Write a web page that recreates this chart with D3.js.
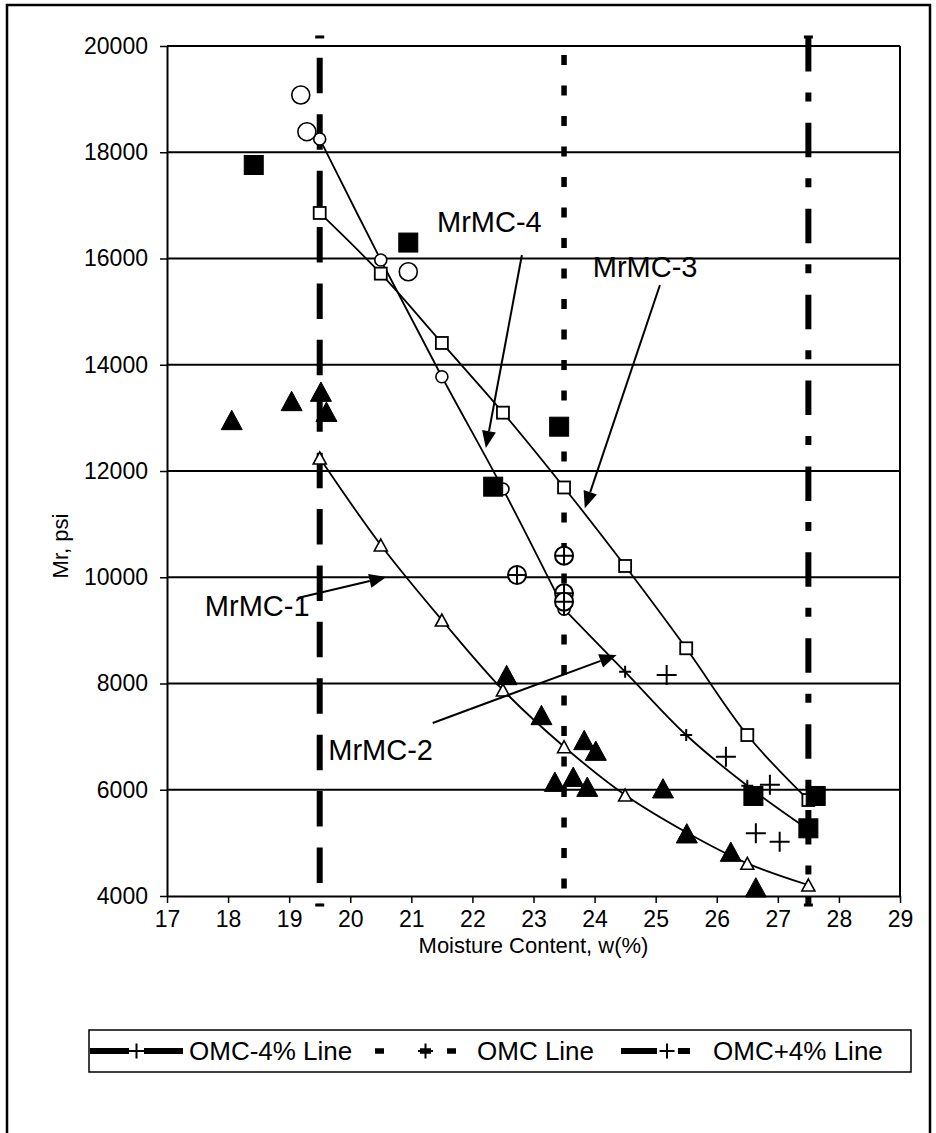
<!DOCTYPE html>
<html>
<head>
<meta charset="utf-8">
<script src="https://cdn.jsdelivr.net/npm/d3@7"></script>
<style>
  body { margin: 0; background: #fff; }
  svg { display: block; }
  text { font-family: "Liberation Sans", Arial, sans-serif; fill: #000; }
</style>
</head>
<body>
<svg id="chart" width="936" height="1133"></svg>
<script>
// ---- axis ticks ----
const xTicks = [17, 18, 19, 20, 21, 22, 23, 24, 25, 26, 27, 28, 29];
const yTicks = [4000, 6000, 8000, 10000, 12000, 14000, 16000, 18000, 20000];

// ---- fitted curves (moisture %, Mr psi) ----
const mrmc1X = [19.5, 20.5, 21.5, 22.5, 23.5, 24.5, 25.5, 26.5, 27.5];
const mrmc1Y = [12245, 10607, 9195, 7878, 6810, 5901, 5200, 4615, 4207];
const mrmc3X = [19.5, 20.5, 21.5, 22.5, 23.5, 24.5, 25.5, 26.5, 27.5];
const mrmc3Y = [16857, 15715, 14410, 13098, 11690, 10212, 8663, 7030, 5807];
const mrmc4X = [19.5, 20.5, 21.5, 22.5, 23.5];
const mrmc4Y = [18250, 15972, 13774, 11660, 9400];
const mrmc2X = [23.5, 24.5, 25.5, 26.5, 27.5];
const mrmc2Y = [9400, 8220, 7030, 6075, 5250];

// ---- measured points ----
const sqX = [18.42, 20.95, 22.34, 23.42, 26.6, 27.5, 27.62];
const sqY = [17760, 16300, 11705, 12834, 5883, 5274, 5883];
const circX = [19.19, 19.29, 20.95];
const circY = [19078, 18387, 15750];
const triX = [18.06, 19.04, 19.52, 19.61, 22.56, 23.13, 23.83, 24.02, 23.35, 23.65, 23.88, 25.12, 25.51, 26.23, 26.64];
const triY = [12960, 13318, 13493, 13115, 8160, 7407, 6936, 6735, 6151, 6245, 6057, 6027, 5180, 4834, 4163];
const plusX = [25.18, 26.15, 26.87, 26.64, 27.03];
const plusY = [8160, 6622, 6094, 5180, 5023];
const oplusX = [22.73, 23.5, 23.5, 23.5];
const oplusY = [10042, 10406, 9698, 9540];

// ---- moisture reference lines ----
const refNames = ["OMC-4% Line", "OMC Line", "OMC+4% Line"];
const refX = [19.5, 23.5, 27.5];
const refTop = [20170, 20000, 20170];
const refBottom = [3830, 4000, 3830];

// ---- curve call-outs ----
const noteNames = ["MrMC-1", "MrMC-2", "MrMC-3", "MrMC-4"];
const noteTextX = [17.62, 19.64, 23.97, 21.42];
const noteTextY = [9270, 6560, 15652, 16500];
const noteFromX = [19.14, 21.35, 25.07, 22.81];
const noteFromY = [9609, 7256, 15501, 16066];
const noteToX = [20.59, 24.36, 23.84, 22.22];
const noteToY = [10005, 8536, 11298, 12433];

const svg = d3.select("#chart");
const plotL = 167, plotR = 900, plotT = 46, plotB = 896;
const x = d3.scaleLinear().domain([17, 29]).range([plotL, plotR]);
const y = d3.scaleLinear().domain([4000, 20000]).range([plotB, plotT]);
const zip = (a, b) => a.map((v, i) => [v, b[i]]);

// outer frame
svg.append("rect").attr("x", 7).attr("y", 5).attr("width", 923).attr("height", 1140)
  .attr("fill", "none").attr("stroke", "#000").attr("stroke-width", 2.5);

// horizontal gridlines
svg.append("g").selectAll("line").data(yTicks.slice(1)).join("line")
  .attr("x1", plotL).attr("x2", plotR)
  .attr("y1", d => y(d)).attr("y2", d => y(d))
  .attr("stroke", "#000").attr("stroke-width", 2);

// plot border (right side)
svg.append("line").attr("x1", plotR).attr("x2", plotR).attr("y1", plotT).attr("y2", plotB)
  .attr("stroke", "#000").attr("stroke-width", 2);

// axes
const yAxis = svg.append("g").attr("transform", `translate(${plotL},0)`)
  .call(d3.axisLeft(y).tickValues(yTicks).tickSize(7).tickSizeOuter(0).tickPadding(12).tickFormat(d => d));
const xAxis = svg.append("g").attr("transform", `translate(0,${plotB})`)
  .call(d3.axisBottom(x).tickValues(xTicks).tickSize(7).tickSizeOuter(0).tickPadding(8).tickFormat(d => d));
[yAxis, xAxis].forEach(a => {
  a.select(".domain").attr("stroke", "#000").attr("stroke-width", 2);
  a.selectAll(".tick line").attr("stroke", "#000").attr("stroke-width", 1.5);
  a.selectAll(".tick text").attr("font-size", 23).attr("fill", "#000")
    .attr("font-family", '"Liberation Sans", Arial, sans-serif');
});

// axis titles
svg.append("text").attr("x", (plotL + plotR) / 2).attr("y", 953)
  .attr("text-anchor", "middle").attr("font-size", 22).text("Moisture Content, w(%)");
svg.append("text").attr("transform", "translate(68,546) rotate(-90)")
  .attr("text-anchor", "middle").attr("font-size", 22).text("Mr, psi");

// moisture reference lines
const refStyle = [
  { dash: "35.5 20.9", offset: 35.5, width: 6 },
  { dash: "10 20.5", offset: 21.5, width: 5.5 },
  { dash: "34.5 21 9 21.4", offset: 0, width: 6 }
];
const vline = d3.line().x(d => x(d[0])).y(d => y(d[1]));
refX.forEach((rx, i) => {
  svg.append("path").attr("d", vline([[rx, refTop[i]], [rx, refBottom[i]]]))
    .attr("fill", "none").attr("stroke", "#000").attr("stroke-width", refStyle[i].width)
    .attr("stroke-dasharray", refStyle[i].dash).attr("stroke-dashoffset", refStyle[i].offset);
  if (i !== 1) {
    [refTop[i], refBottom[i]].forEach(v => {
      svg.append("line").attr("x1", x(rx) - 4.5).attr("x2", x(rx) + 4.5)
        .attr("y1", y(v)).attr("y2", y(v)).attr("stroke", "#000").attr("stroke-width", 3);
    });
  }
});

// marker painter
function marker(g, type, s) {
  const half = s / 2;
  if (type === "circle" || type === "oplus") {
    g.append("circle").attr("r", half).attr("fill", "#fff").attr("stroke", "#000").attr("stroke-width", type === "oplus" ? 2 : 1.6);
    if (type === "oplus") {
      g.append("path").attr("d", `M${-half},0H${half}M0,${-half}V${half}`).attr("stroke", "#000").attr("stroke-width", 2);
    }
  } else if (type === "square" || type === "fsquare") {
    g.append("rect").attr("x", -half).attr("y", -half).attr("width", s).attr("height", s)
      .attr("fill", type === "fsquare" ? "#000" : "#fff").attr("stroke", "#000").attr("stroke-width", type === "fsquare" ? 1 : 1.8);
  } else if (type === "triangle" || type === "ftriangle") {
    const h = s * 0.92;
    g.append("path").attr("d", `M0,${-h / 2}L${half},${h / 2}L${-half},${h / 2}Z`)
      .attr("fill", type === "ftriangle" ? "#000" : "#fff").attr("stroke", "#000").attr("stroke-width", type === "ftriangle" ? 1 : 1.6)
      .attr("stroke-linejoin", "miter");
  } else if (type === "plus") {
    g.append("path").attr("d", `M${-half},0H${half}M0,${-half}V${half}`).attr("stroke", "#000").attr("stroke-width", 2);
  }
}
function plotPoints(xs, ys, type, s) {
  const g = svg.append("g");
  zip(xs, ys).forEach(d => {
    marker(g.append("g").attr("transform", `translate(${x(d[0])},${y(d[1])})`), type, s);
  });
}

// fitted curves
const curve = d3.line().x(d => x(d[0])).y(d => y(d[1])).curve(d3.curveCatmullRom.alpha(0.5));
[[mrmc1X, mrmc1Y], [mrmc3X, mrmc3Y], [mrmc4X, mrmc4Y], [mrmc2X, mrmc2Y]].forEach(([xs, ys]) => {
  svg.append("path").attr("d", curve(zip(xs, ys))).attr("fill", "none")
    .attr("stroke", "#000").attr("stroke-width", 1.8);
});
plotPoints(mrmc1X, mrmc1Y, "triangle", 13);
plotPoints(mrmc3X, mrmc3Y, "square", 12);
plotPoints(mrmc4X, mrmc4Y, "circle", 12);
plotPoints(mrmc2X, mrmc2Y, "plus", 12);

// measured points
plotPoints(triX, triY, "ftriangle", 21);
plotPoints(circX, circY, "circle", 18);
plotPoints(oplusX, oplusY, "oplus", 18);
plotPoints(plusX, plusY, "plus", 20);
plotPoints(sqX, sqY, "fsquare", 19);

// call-outs
noteNames.forEach((name, i) => {
  const x0 = x(noteFromX[i]), y0 = y(noteFromY[i]);
  const x1 = x(noteToX[i]), y1 = y(noteToY[i]);
  const ang = Math.atan2(y1 - y0, x1 - x0);
  const len = 17, wid = 7;
  const bx = x1 - len * Math.cos(ang), by = y1 - len * Math.sin(ang);
  svg.append("line").attr("x1", x0).attr("y1", y0).attr("x2", bx).attr("y2", by)
    .attr("stroke", "#000").attr("stroke-width", 2);
  svg.append("path").attr("d",
    `M${x1},${y1}L${bx + wid * Math.sin(ang)},${by - wid * Math.cos(ang)}L${bx - wid * Math.sin(ang)},${by + wid * Math.cos(ang)}Z`)
    .attr("fill", "#000");
  svg.append("text").attr("x", x(noteTextX[i])).attr("y", y(noteTextY[i]))
    .attr("font-size", 29).text(name);
});

// legend
const lg = svg.append("g");
lg.append("rect").attr("x", 89).attr("y", 1030).attr("width", 822).attr("height", 42)
  .attr("fill", "#fff").attr("stroke", "#000").attr("stroke-width", 1.5);
const legY = 1051;
const legSym = [
  { x0: 90, x1: 183, dash: "39 15", w: 6, px: 136.5 },
  { x0: 375, x1: 456, dash: "9 36 11 16 9", w: 5.5, px: 425.5 },
  { x0: 621, x1: 690, dash: "36 21 12 21", w: 6, px: 667 }
];
const legText = [189, 477, 713];
refNames.forEach((name, i) => {
  const s = legSym[i];
  lg.append("line").attr("x1", s.x0).attr("x2", s.x1).attr("y1", legY).attr("y2", legY)
    .attr("stroke", "#000").attr("stroke-width", s.w).attr("stroke-dasharray", s.dash);
  marker(lg.append("g").attr("transform", `translate(${s.px},${legY})`), "plus", 15);
  lg.append("text").attr("x", legText[i]).attr("y", legY + 9).attr("font-size", 26).text(name);
});
</script>
</body>
</html>
